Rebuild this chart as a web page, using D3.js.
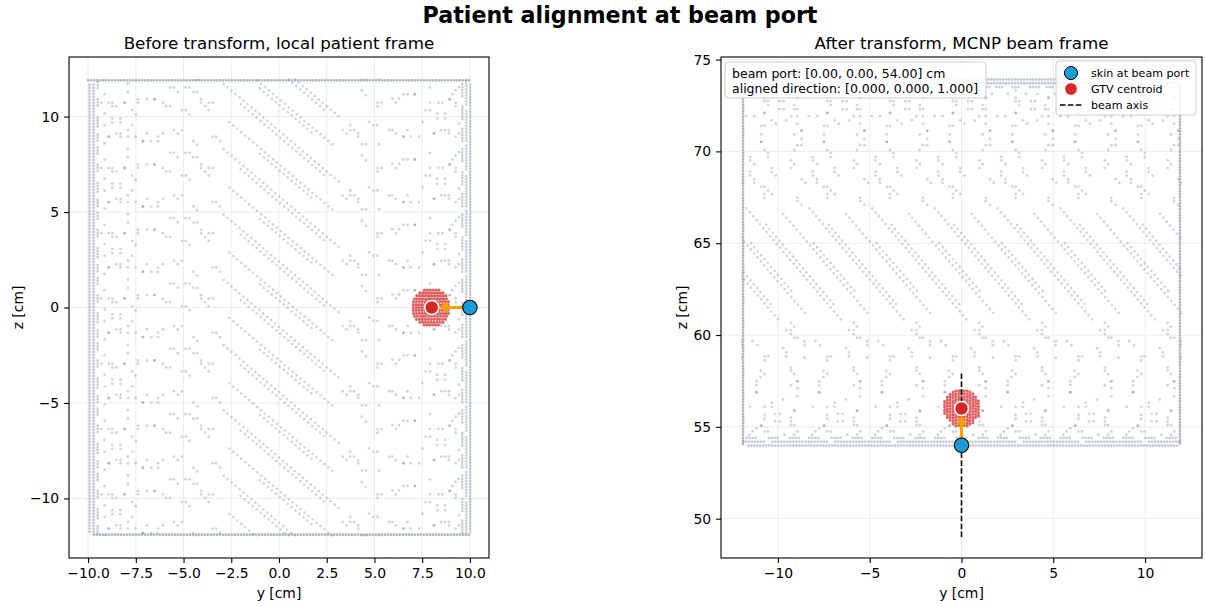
<!DOCTYPE html>
<html>
<head>
<meta charset="utf-8">
<script src="https://cdn.jsdelivr.net/npm/d3@7"></script>
<style>
  body { margin: 0; background: #fff; }
  svg text { font-family: "DejaVu Sans", sans-serif; fill: #000; }
</style>
</head>
<body>
<svg id="fig" width="1206" height="606"></svg>
<script>
// ---------------- data (local patient frame, cm) ----------------
const skinLocal = [10.0, 0.0];          // [y, z] skin point at beam port
const gtvLocal = [8.0, 0.0];            // [y, z] GTV centroid
const beamPort = [0.00, 0.00, 54.00];   // beam frame position of the port
const beamDir = [0.000, 0.000, 1.000];  // aligned beam direction
const beamAxisZ = [49.0, 58.0];         // beam axis extent along z (beam frame)

const leftXTicks = [-10, -7.5, -5, -2.5, 0, 2.5, 5, 7.5, 10];
const leftYTicks = [-10, -5, 0, 5, 10];
const rightXTicks = [-10, -5, 0, 5, 10];
const rightYTicks = [50, 55, 60, 65, 70, 75];

// dense outline runs of the body shell: [y1, z1, y2, z2, shade]
const boxRuns = [
  [-10.00, 11.90, 10.00, 11.90, 2],
  [-9.70, -11.90, 10.00, -11.90, 2],
  [-9.92, -11.75, -9.92, 11.75, 1],
  [-9.71, -11.75, -9.71, 11.75, 1],
  [10.02, -11.75, 10.02, 11.75, 1]
];

// the shell sampling repeats along z; tile tops (z) of each repeat
const tileTops = [15.32, 11.90, 8.48, 5.06, 1.64, -1.78, -5.20, -8.62];

// partial columns within one tile: [y, dz from tile top start, dz end]
const tileColumns = [
  [-9.50, 0.10, 0.55], [-9.50, 1.00, 1.45], [-9.50, 1.95, 2.45], [-9.50, 2.85, 3.20],
  [9.60, 0.20, 0.85], [9.60, 1.40, 2.05], [9.60, 2.55, 3.20],
  [9.81, 0.00, 1.30], [9.81, 1.60, 3.30]
];

// diagonal streaks within one tile: [y1, dz1, y2, dz2]
const tileStreaks = [
  [-2.90, 0.19, 3.30, 5.46],
  [-2.00, 1.25, 2.40, 4.99],
  [-2.60, 2.19, 3.00, 6.95],
  [-1.00, 0.43, 1.80, 2.81]
];

// scattered points within one tile: [y, dz, overlapping layers]
const tilePoints = [
  [-9.13,0.73,1],[-9.31,1.17,1],[-8.92,1.17,1],[-8.73,1.17,1],[-8.09,1.17,2],
  [-8.52,1.36,1],[-8.73,1.36,1],[-7.91,0.17,1],[-7.91,0.61,1],[-7.69,1.57,1],
  [-7.51,1.79,1],[-8.73,2.00,1],[-8.30,2.00,1],[-8.73,2.21,1],[-8.30,2.21,1],
  [-9.13,2.35,1],[-7.91,2.61,1],[-7.69,2.35,1],[-8.92,2.96,2],[-8.52,2.79,1],
  [-8.30,2.79,1],[-8.30,2.96,1],[-7.91,2.96,1],[-7.51,2.96,1],[-9.13,3.30,1],[-9.13,1.74,1],
  [-7.39,0.99,1],[-7.39,1.17,1],[-6.92,0.99,1],[-6.52,0.99,2],[-6.08,1.17,1],
  [-5.91,1.36,1],[-5.70,1.36,1],[-7.13,3.19,2],[-6.69,3.19,1],[-6.92,2.79,1],
  [-6.34,2.96,1],[-6.34,3.19,1],[-6.08,2.79,1],[-5.51,2.61,1],[-5.30,2.79,1],
  [-5.09,2.61,1],[-5.70,0.38,1],[-5.51,0.38,1],[-5.30,0.61,1],[-5.09,1.57,1],
  [-4.88,1.57,1],[-4.69,1.79,1],[-4.90,0.38,1],[-4.69,0.38,1],[-4.48,0.61,1],
  [-4.29,0.61,1],[-4.08,0.99,1],[-4.08,1.17,1],[-3.87,1.36,1],[-3.68,1.17,1],
  [-3.47,1.17,1],[-3.68,1.57,1],[-4.48,3.19,1],[-4.29,3.39,1],[-3.47,2.96,1],
  [-3.29,2.96,1],[-3.09,3.19,1],
  [3.33,2.61,1],[3.54,2.79,1],[3.73,2.35,1],[3.73,2.61,1],[3.94,2.61,1],[4.15,2.79,1],
  [4.15,2.96,1],[4.34,0.52,1],[4.55,0.78,1],[4.72,2.18,1],[4.95,2.35,1],[5.16,2.35,1],
  [5.16,1.17,1],[5.37,1.17,1],[5.16,1.36,1],[5.77,2.61,1],[5.94,2.61,1],[6.12,2.79,1],
  [6.52,2.96,2],[6.73,2.61,1],[6.90,2.96,1],[7.34,2.96,1],[5.94,0.96,1],[6.12,1.17,1],
  [6.29,0.96,1],[6.52,0.73,1],[6.73,0.73,1],[7.11,0.73,2],[4.34,3.35,1],[4.55,3.35,1],
  [5.24,3.35,1],[7.51,2.18,1],[7.68,1.57,1],
  [7.91,0.38,1],[7.91,1.17,1],[7.91,1.57,1],[8.12,2.79,2],[8.29,1.74,1],[8.29,2.00,1],
  [8.70,1.74,1],[8.70,2.00,1],[8.50,2.61,1],[8.70,2.61,1],[8.90,2.61,1],[8.90,2.79,1],
  [8.94,0.99,2],[9.08,0.73,1],[9.25,0.52,1],[9.25,1.17,1],[9.25,1.36,1],[9.43,0.35,1],
  [8.35,1.17,1],[8.56,1.17,1],[9.25,2.96,1],[9.43,2.79,1],[9.43,2.26,1]
];

// GTV voxel rows around the centroid: [dz, half-width along y]
const gtvRows = [
  [0.92,0.38],[0.77,0.62],[0.62,0.78],[0.46,0.90],[0.31,0.95],[0.15,0.97],[0.00,0.97],
  [-0.15,0.97],[-0.31,0.95],[-0.46,0.90],[-0.62,0.80],[-0.77,0.62],[-0.92,0.40]
];

// ---------------- frame mapping ----------------
// local (y, z) -> beam frame (y, z): depth along local y becomes beam z
const toBeam = (yy, zz) => [beamPort[1] - (zz - skinLocal[1]), beamPort[2] + (skinLocal[0] - yy)];
const toLocal = (yy, zz) => [yy, zz];

const COLORS = {
  cloud: "#7d8c9c",
  edge: "#7d8c9c",
  gtv: "#d62728",
  skin: "#1a9bd7",
  arrow: "#f5a10a",
  grid: "#e7e7e7"
};

const fig = d3.select("#fig");

fig.append("text")
  .attr("x", 620).attr("y", 23)
  .attr("text-anchor", "middle")
  .attr("font-size", 22.2).attr("font-weight", "bold")
  .text("Patient alignment at beam port");

const panels = [
  { id: "local", title: "Before transform, local patient frame",
    left: 69, right: 489, top: 57, bottom: 558,
    xDom: [-11, 11], yDom: [-13.12, 13.12],
    xTicks: leftXTicks, yTicks: leftYTicks,
    xFmt: d3.format(".1f"), yFmt: d3.format("d"),
    map: toLocal, labelX: 23 },
  { id: "beam", title: "After transform, MCNP beam frame",
    left: 721, right: 1202, top: 57, bottom: 558,
    xDom: [-13.1, 13.1], yDom: [47.86, 75.14],
    xTicks: rightXTicks, yTicks: rightYTicks,
    xFmt: d3.format("d"), yFmt: d3.format("d"),
    map: toBeam, labelX: 687 }
];

const defs = fig.append("defs");

panels.forEach(p => {
  const x = d3.scaleLinear().domain(p.xDom).range([p.left, p.right]);
  const y = d3.scaleLinear().domain(p.yDom).range([p.bottom, p.top]);
  const P = (a, b) => { const [u, v] = p.map(a, b); return [x(u), y(v)]; };
  const g = fig.append("g");

  // grid
  g.append("g").selectAll("line").data(p.xTicks).join("line")
    .attr("x1", d => x(d)).attr("x2", d => x(d))
    .attr("y1", p.top).attr("y2", p.bottom)
    .attr("stroke", COLORS.grid).attr("stroke-width", 0.8);
  g.append("g").selectAll("line").data(p.yTicks.filter(d => y(d) >= p.top && y(d) <= p.bottom)).join("line")
    .attr("y1", d => y(d)).attr("y2", d => y(d))
    .attr("x1", p.left).attr("x2", p.right)
    .attr("stroke", COLORS.grid).attr("stroke-width", 0.8);

  // clip to the shell extent
  const c1 = P(-10.1, -12.0), c2 = P(10.1, 12.0);
  defs.append("clipPath").attr("id", "shell-" + p.id).append("rect")
    .attr("x", Math.min(c1[0], c2[0])).attr("y", Math.min(c1[1], c2[1]))
    .attr("width", Math.abs(c2[0] - c1[0])).attr("height", Math.abs(c2[1] - c1[1]));
  defs.append("clipPath").attr("id", "axes-" + p.id).append("rect")
    .attr("x", p.left).attr("y", p.top)
    .attr("width", p.right - p.left).attr("height", p.bottom - p.top);

  const plot = g.append("g").attr("clip-path", `url(#axes-${p.id})`);
  const cloud = plot.append("g").attr("clip-path", `url(#shell-${p.id})`);

  const dottedRun = (sel, a, b, gap, width, color, opacity) => {
    const A = P(a[0], a[1]), B = P(b[0], b[1]);
    sel.append("line")
      .attr("x1", A[0]).attr("y1", A[1]).attr("x2", B[0]).attr("y2", B[1])
      .attr("stroke", color).attr("stroke-opacity", opacity)
      .attr("stroke-width", width).attr("stroke-linecap", "round")
      .attr("stroke-dasharray", `0 ${gap}`);
  };

  // shell outline
  boxRuns.forEach(r => dottedRun(cloud, [r[0], r[1]], [r[2], r[3]], 3.0, 2.8, COLORS.edge, r[4] === 2 ? 0.62 : 0.45));

  tileTops.forEach(top => {
    tileColumns.forEach(c => dottedRun(cloud, [c[0], top - c[1]], [c[0], top - c[2]], 3.0, 2.8, COLORS.cloud, 0.4));
    tileStreaks.forEach(s => dottedRun(cloud, [s[0], top - s[1]], [s[2], top - s[3]], 5.2, 2.8, COLORS.cloud, 0.35));
  });
  const pts = [];
  tileTops.forEach(top => tilePoints.forEach(t => pts.push([t[0], top - t[1], t[2]])));
  cloud.append("g").selectAll("circle").data(pts).join("circle")
    .attr("cx", d => P(d[0], d[1])[0]).attr("cy", d => P(d[0], d[1])[1])
    .attr("r", 1.45).attr("fill", COLORS.cloud)
    .attr("fill-opacity", d => d[2] > 1 ? 0.62 : 0.35);

  // GTV voxels
  const gtvG = plot.append("g");
  gtvRows.forEach(r => dottedRun(gtvG,
    [gtvLocal[0] - r[1], gtvLocal[1] + r[0]], [gtvLocal[0] + r[1], gtvLocal[1] + r[0]],
    2.9, 3.1, COLORS.gtv, 0.72));

  // beam axis (beam frame only)
  if (p.id === "beam") {
    plot.append("line")
      .attr("x1", x(beamPort[1])).attr("x2", x(beamPort[1]))
      .attr("y1", y(beamAxisZ[0])).attr("y2", y(beamAxisZ[1]))
      .attr("stroke", "#000").attr("stroke-width", 1.6)
      .attr("stroke-dasharray", "5.5 2.4");
  }

  // arrow skin -> GTV
  const S = P(skinLocal[0], skinLocal[1]), T = P(gtvLocal[0], gtvLocal[1]);
  const dx = T[0] - S[0], dy = T[1] - S[1], L = Math.hypot(dx, dy);
  const ux = dx / L, uy = dy / L;
  const start = [S[0] + ux * 5, S[1] + uy * 5];
  const tip = [T[0] - ux * 6.5, T[1] - uy * 6.5];
  const headLen = 9.5, headW = 5.4;
  const base = [tip[0] - ux * headLen, tip[1] - uy * headLen];
  plot.append("line")
    .attr("x1", start[0]).attr("y1", start[1]).attr("x2", base[0] + ux * 1).attr("y2", base[1] + uy * 1)
    .attr("stroke", COLORS.arrow).attr("stroke-width", 3.2);
  plot.append("path")
    .attr("d", `M${tip[0]},${tip[1]}L${base[0] - uy * headW},${base[1] + ux * headW}L${base[0] + uy * headW},${base[1] - ux * headW}Z`)
    .attr("fill", COLORS.arrow);

  // markers
  plot.append("circle").attr("cx", T[0]).attr("cy", T[1]).attr("r", 7)
    .attr("fill", COLORS.gtv).attr("stroke", "#fff").attr("stroke-width", 1.5);
  plot.append("circle").attr("cx", S[0]).attr("cy", S[1]).attr("r", 7.2)
    .attr("fill", COLORS.skin).attr("stroke", "#000").attr("stroke-width", 1.1);

  // spines
  g.append("rect")
    .attr("x", p.left).attr("y", p.top)
    .attr("width", p.right - p.left).attr("height", p.bottom - p.top)
    .attr("fill", "none").attr("stroke", "#000").attr("stroke-width", 1.1);

  // axes
  const xAxis = d3.axisBottom(x).tickValues(p.xTicks).tickFormat(p.xFmt).tickSize(4.9).tickPadding(4.9);
  const yAxis = d3.axisLeft(y).tickValues(p.yTicks).tickFormat(p.yFmt).tickSize(4.9).tickPadding(4.9);
  const ax = g.append("g").attr("transform", `translate(0,${p.bottom})`).call(xAxis);
  const ay = g.append("g").attr("transform", `translate(${p.left},0)`).call(yAxis);
  [ax, ay].forEach(a => {
    a.select(".domain").remove();
    a.selectAll(".tick line").attr("stroke", "#000").attr("stroke-width", 1.1);
    a.selectAll(".tick text").attr("font-size", 13.9).attr("font-family", "DejaVu Sans").attr("fill", "#000");
  });

  // titles and labels
  const cx = (p.left + p.right) / 2, cy = (p.top + p.bottom) / 2;
  g.append("text").attr("x", cx).attr("y", 49).attr("text-anchor", "middle")
    .attr("font-size", 16.7).text(p.title);
  g.append("text").attr("x", cx).attr("y", 598).attr("text-anchor", "middle")
    .attr("font-size", 13.9).text("y [cm]");
  g.append("text").attr("transform", `translate(${p.labelX},${cy}) rotate(-90)`)
    .attr("text-anchor", "middle").attr("font-size", 13.9).text("z [cm]");

  if (p.id === "beam") {
    // info box
    const fmt2 = d3.format(".2f"), fmt3 = d3.format(".3f");
    const info = g.append("g");
    info.append("rect").attr("x", p.left + 4).attr("y", 62).attr("width", 261).attr("height", 36)
      .attr("rx", 3.5).attr("fill", "#fff").attr("fill-opacity", 0.9)
      .attr("stroke", "#cccccc").attr("stroke-width", 1);
    info.append("text").attr("x", p.left + 11).attr("y", 78).attr("font-size", 12.5)
      .text(`beam port: [${beamPort.map(fmt2).join(", ")}] cm`);
    info.append("text").attr("x", p.left + 11).attr("y", 93).attr("font-size", 12.5)
      .text(`aligned direction: [${beamDir.map(fmt3).join(", ")}]`);

    // legend
    const lg = g.append("g");
    const lx = 1056, ly = 61;
    lg.append("rect").attr("x", lx).attr("y", ly).attr("width", 140).attr("height", 54)
      .attr("rx", 3).attr("fill", "#fff").attr("fill-opacity", 0.85)
      .attr("stroke", "#cccccc").attr("stroke-width", 1);
    lg.append("circle").attr("cx", lx + 15).attr("cy", ly + 12).attr("r", 6.6)
      .attr("fill", COLORS.skin).attr("stroke", "#000").attr("stroke-width", 1);
    lg.append("circle").attr("cx", lx + 15).attr("cy", ly + 28).attr("r", 6.3)
      .attr("fill", COLORS.gtv).attr("stroke", "#fff").attr("stroke-width", 1);
    lg.append("line").attr("x1", lx + 4).attr("x2", lx + 27).attr("y1", ly + 44).attr("y2", ly + 44)
      .attr("stroke", "#000").attr("stroke-width", 1.6).attr("stroke-dasharray", "5.5 2.4");
    const labels = ["skin at beam port", "GTV centroid", "beam axis"];
    lg.selectAll("text.lab").data(labels).join("text").attr("class", "lab")
      .attr("x", lx + 35).attr("y", (d, i) => ly + 16 + i * 16)
      .attr("font-size", 11.1).text(d => d);
  }
});
</script>
</body>
</html>
